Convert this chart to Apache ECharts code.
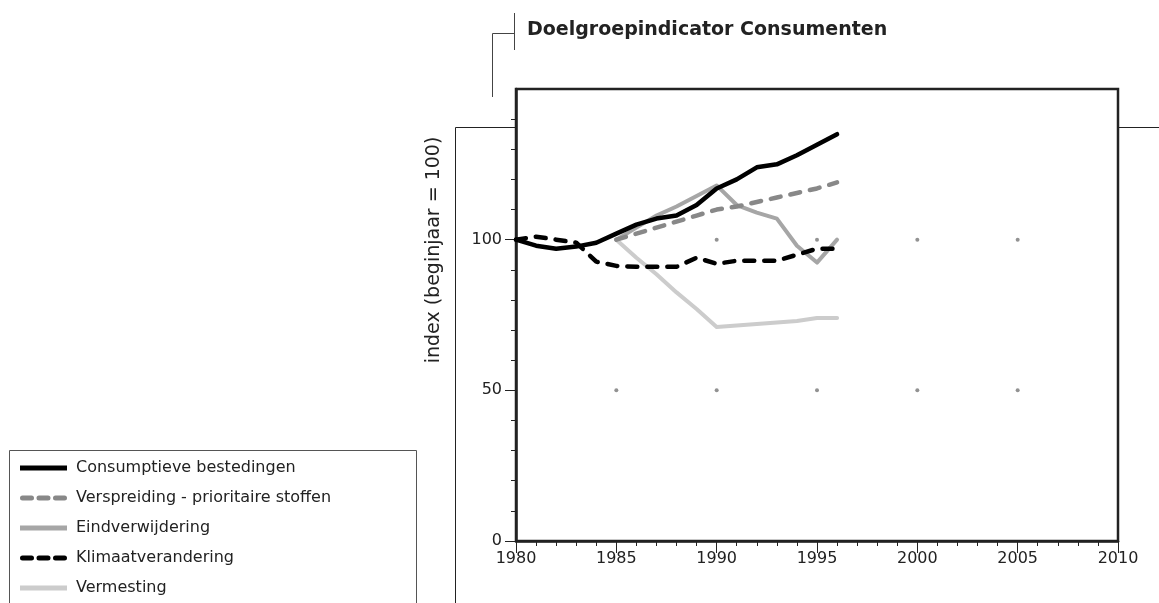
<!DOCTYPE html>
<html><head><meta charset="utf-8">
<script src="https://cdn.jsdelivr.net/npm/echarts@6/dist/echarts.min.js"></script>
<style>html,body{margin:0;padding:0;background:#fff}#c{width:1159px;height:603px}</style>
</head><body><div id="c"></div>
<script>
const title = 'Doelgroepindicator Consumenten';
const yAxisTitle = 'index (beginjaar = 100)';
const xTicks = [1980, 1985, 1990, 1995, 2000, 2005, 2010];
const yTicks = [0, 50, 100];

const yearsFull = [1980,1981,1982,1983,1984,1985,1986,1987,1988,1989,1990,1991,1992,1993,1994,1995,1996];
const yearsLate = [1985,1986,1987,1988,1989,1990,1991,1992,1993,1994,1995,1996];

const consumptieve = [100,98,97,97.7,99,102,105,107,108,111.5,117,120,124,125,128,131.5,135];
const verspreiding = [100,102,104,106,108,110,111,112.5,114,115.5,117,119];
const eindverwijdering = [100,104,108,111,114.5,118,111.5,109,107,98,92.4,100];
const klimaat = [100,101,100,99,92.7,91.3,91,91,91,94,92,93,93,93,95,97,97];
const vermesting = [100,94,88.5,82.5,77,71,71.5,72,72.5,73,74,74];

const dotX = [1985,1990,1995,2000,2005,1985,1990,1995,2000,2005];
const dotY = [50,50,50,50,50,100,100,100,100,100];

const pairs = (xs, ys) => xs.map((x, i) => [x, ys[i]]);
const FONT = '"DejaVu Sans", "Noto Sans", sans-serif';
const SOLID_ICON = 'path://M0,0h47v5h-47z';
const DASH_ICON = 'path://M2.5,0h9a2.5,2.5 0 0 1 0,5h-9a2.5,2.5 0 0 1 0,-5z M19,0h9a2.5,2.5 0 0 1 0,5h-9a2.5,2.5 0 0 1 0,-5z M35.5,0h9a2.5,2.5 0 0 1 0,5h-9a2.5,2.5 0 0 1 0,-5z';

const chart = echarts.init(document.getElementById('c'));
function lineSeries(name, xs, ys, color, width, type, z) {
  return {
    name, type: 'line', data: pairs(xs, ys), symbol: 'none', z: z,
    lineStyle: { color, width, type, cap: 'round', join: 'round' },
    itemStyle: { color },
    animation: false
  };
}
chart.setOption({
  animation: false,
  textStyle: { fontFamily: FONT },
  grid: { left: 516, top: 89, right: 41, bottom: 62, show: true, borderColor: '#222', borderWidth: 2.5, backgroundColor: 'transparent' },
  xAxis: {
    type: 'value', min: xTicks[0], max: xTicks[xTicks.length-1], interval: 5,
    axisLine: { show: true, lineStyle: { color: '#222', width: 2.5 } },
    axisTick: { show: true, length: 12, lineStyle: { color: '#222', width: 1 } },
    minorTick: { show: true, splitNumber: 5, length: 5, lineStyle: { color: '#222', width: 1 } },
    splitLine: { show: false },
    axisLabel: { color: '#222', fontSize: 16, margin: 10, fontFamily: FONT,
      formatter: v => xTicks.includes(v) ? String(v) : '' }
  },
  yAxis: {
    type: 'value', min: 0, max: 150, interval: 50,
    axisLine: { show: true, lineStyle: { color: '#222', width: 2.5 } },
    axisTick: { show: true, length: 11, customValues: yTicks, lineStyle: { color: '#222', width: 1 } },
    minorTick: { show: true, splitNumber: 5, length: 5, lineStyle: { color: '#222', width: 1 } },
    splitLine: { show: false },
    axisLabel: { color: '#222', fontSize: 16, margin: 14, fontFamily: FONT,
      formatter: v => yTicks.includes(v) ? String(v) : '' }
  },
  legend: {
    orient: 'vertical', left: 20, top: 460, padding: 0, height: 200,
    itemWidth: 47, itemHeight: 5, itemGap: 14, symbolKeepAspect: false,
    itemStyle: { borderWidth: 0 },
    textStyle: { color: '#222', fontSize: 16, lineHeight: 16, fontFamily: FONT, padding: [0, 0, 0, 4] },
    data: [
      { name: 'Consumptieve bestedingen', icon: SOLID_ICON },
      { name: 'Verspreiding - prioritaire stoffen', icon: DASH_ICON },
      { name: 'Eindverwijdering', icon: SOLID_ICON },
      { name: 'Klimaatverandering', icon: DASH_ICON },
      { name: 'Vermesting', icon: SOLID_ICON }
    ]
  },
  graphic: [
    { type: 'text', x: 527, y: 30, style: { text: title, font: 'bold 19px ' + FONT, fill: '#222', verticalAlign: 'middle' } },
    { type: 'line', shape: { x1: 514.5, y1: 13, x2: 514.5, y2: 50 }, style: { stroke: '#444', lineWidth: 1 } },
    { type: 'line', shape: { x1: 492.5, y1: 33.5, x2: 514.5, y2: 33.5 }, style: { stroke: '#444', lineWidth: 1 } },
    { type: 'line', shape: { x1: 492.5, y1: 33.5, x2: 492.5, y2: 97 }, style: { stroke: '#444', lineWidth: 1 } },
    { type: 'line', shape: { x1: 455.5, y1: 127.5, x2: 516, y2: 127.5 }, style: { stroke: '#222', lineWidth: 1 } },
    { type: 'line', shape: { x1: 455.5, y1: 127.5, x2: 455.5, y2: 603 }, style: { stroke: '#222', lineWidth: 1 } },
    { type: 'line', shape: { x1: 1118, y1: 127.5, x2: 1159, y2: 127.5 }, style: { stroke: '#222', lineWidth: 1 } },
    { type: 'rect', shape: { x: 9.5, y: 450.5, width: 407, height: 160 }, style: { fill: 'none', stroke: '#555', lineWidth: 1 }, z: -1 },
    { type: 'text', x: 434, y: 250, rotation: Math.PI / 2,
      style: { text: yAxisTitle, font: '19px ' + FONT, fill: '#222', align: 'center', verticalAlign: 'middle' } }
  ],
  series: [
    { type: 'scatter', data: pairs(dotX, dotY), symbolSize: 4, itemStyle: { color: '#777' }, z: 1, silent: true },
    lineSeries('Vermesting', yearsLate, vermesting, '#cccccc', 4, 'solid', 2),
    lineSeries('Eindverwijdering', yearsLate, eindverwijdering, '#a6a6a6', 4, 'solid', 3),
    lineSeries('Verspreiding - prioritaire stoffen', yearsLate, verspreiding, '#888888', 4.5, [10, 10], 4),
    lineSeries('Klimaatverandering', yearsFull, klimaat, '#000000', 4.5, [10, 10], 5),
    lineSeries('Consumptieve bestedingen', yearsFull, consumptieve, '#000000', 4.5, 'solid', 6)
  ]
});
</script></body></html>
